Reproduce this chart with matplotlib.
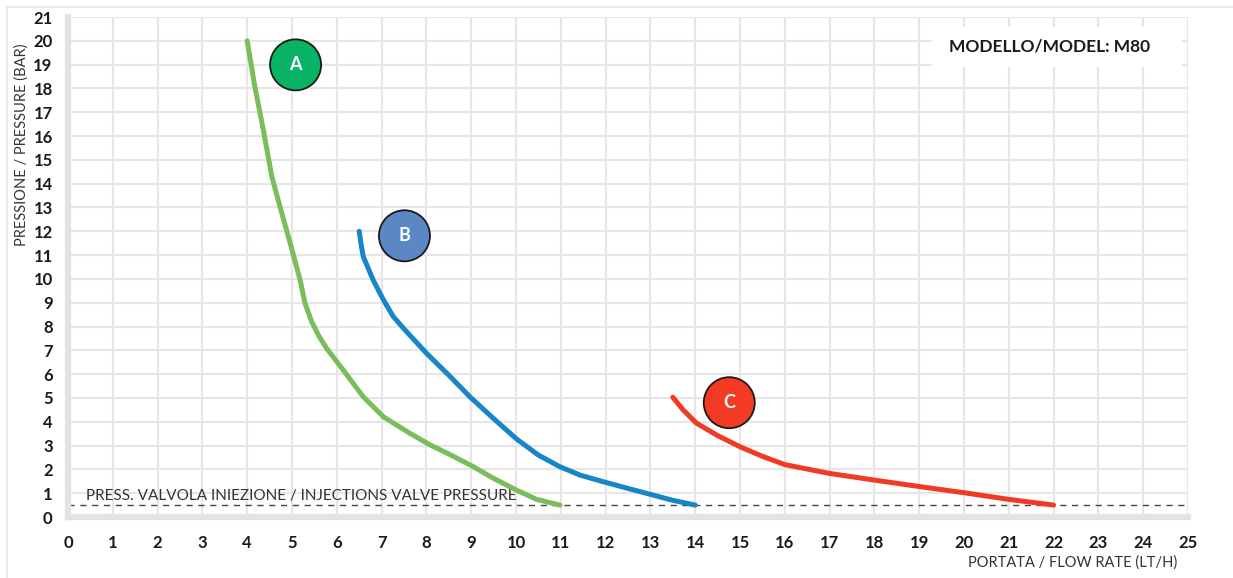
import matplotlib
matplotlib.use("Agg")
import matplotlib.pyplot as plt
from matplotlib.lines import Line2D

# --- data ---
a_x = [4.0, 4.17, 4.36, 4.55, 4.73, 4.96, 5.18, 5.29, 5.44, 5.6, 5.77, 6.14, 6.59,
       7.04, 7.6, 8.08, 8.55, 9.05, 9.5, 10.01, 10.46, 10.98]
a_y = [20.0, 18.08, 16.26, 14.3, 13.04, 11.5, 9.96, 8.98, 8.2, 7.6, 7.09, 6.18, 5.05,
       4.21, 3.55, 3.03, 2.6, 2.11, 1.62, 1.13, 0.74, 0.5]

b_x = [6.5, 6.55, 6.59, 6.81, 7.04, 7.26, 7.52, 8.0, 8.53, 8.97, 9.49, 10.01,
       10.5, 10.98, 11.43, 11.95, 12.5, 13.06, 13.5, 14.0]
b_y = [12.0, 11.36, 10.94, 9.96, 9.12, 8.42, 7.86, 6.88, 5.9, 5.05, 4.15, 3.28,
       2.6, 2.11, 1.76, 1.48, 1.2, 0.92, 0.7, 0.5]

c_x = [13.5, 13.73, 14.03, 14.5, 15.0, 15.5, 16.0, 17.0, 18.0, 19.0, 20.0, 21.0, 22.0]
c_y = [5.03, 4.5, 3.94, 3.42, 2.95, 2.55, 2.2, 1.83, 1.55, 1.28, 1.02, 0.74, 0.5]

curve_names = ['A', 'B', 'C']
badge_x = [5.08, 7.51, 14.76]
badge_y = [18.99, 11.81, 4.8]

valve_pressure = 0.5
x_ticks = list(range(0, 26))
y_ticks = list(range(0, 22))

line_colors = ['#79bd5c', '#1686c8', '#f03a24']
badge_colors = ['#08b366', '#5b87c5', '#f23b22']

fig = plt.figure(figsize=(12.33, 5.78), dpi=100, facecolor='white')
ax = fig.add_axes([68 / 1233, 1 - 517 / 578, 1120 / 1233, 500 / 578])

ax.set_xlim(0, 25)
ax.set_ylim(0, 21)
ax.set_xticks(x_ticks)
ax.set_yticks(y_ticks)
ax.grid(True, color='#e6e6e6', lw=1.5, zorder=0)
ax.set_axisbelow(True)

for side in ['top', 'right']:
    ax.spines[side].set_visible(False)
for side in ['left', 'bottom']:
    ax.spines[side].set_color('#e4e2e4')
    ax.spines[side].set_linewidth(4.5)
ax.tick_params(direction='inout', length=4, width=4, color='#e4e2e4',
               labelsize=12, labelcolor='#1a1a1a')
ax.tick_params(axis='x', pad=11)
ax.tick_params(axis='y', pad=9)
for lab in ax.get_xticklabels() + ax.get_yticklabels():
    lab.set_fontweight('bold')
    lab.set_family('Lato')

# model box (white patch hiding the grid)
ax.add_patch(plt.Rectangle((19.29, 18.9), 5.58, 1.69, facecolor='white',
                           edgecolor='none', zorder=1))
ax.text(21.92, 19.76, 'MODELLO/MODEL: M80', ha='center', va='center',
        fontsize=12.5, fontweight='bold', family='Lato', color='#1a1a1a', zorder=2)

# valve pressure reference line
ax.axhline(valve_pressure, color='#444444', lw=1, ls=(0, (4.5, 4)), zorder=2)
ax.text(0.4, 0.71, 'PRESS. VALVOLA INIEZIONE / INJECTIONS VALVE PRESSURE',
        ha='left', va='baseline', fontsize=11, family='Lato', color='#333333',
        zorder=2)

for xs, ys, col in zip([a_x, b_x, c_x], [a_y, b_y, c_y], line_colors):
    ax.plot(xs, ys, color=col, lw=3.6, solid_capstyle='round',
            solid_joinstyle='round', zorder=3)

ax.scatter(badge_x, badge_y, s=1350, c=badge_colors, edgecolors='#1a1a1a',
           linewidths=1.3, zorder=4)
for name, bx, by in zip(curve_names, badge_x, badge_y):
    ax.text(bx, by, name, ha='center', va='center', color='white',
            fontsize=13, fontweight='bold', family='Lato', zorder=5)

fig.text(22 / 1233, 1 - 145 / 578, 'PRESSIONE / PRESSURE (BAR)', rotation=90,
         ha='center', va='center', fontsize=10.5, family='Lato', color='#333333')
fig.text(1177 / 1233, 1 - 563 / 578, 'PORTATA / FLOW RATE (LT/H)', ha='right',
         va='center', fontsize=10.5, family='Lato', color='#333333')

# thin frame around the chart area (top and left edges visible)
fig.add_artist(Line2D([6 / 1233, 1], [1 - 7 / 578, 1 - 7 / 578],
                      color='#e8e8e8', lw=1.2))
fig.add_artist(Line2D([7 / 1233, 7 / 1233], [0, 1 - 7 / 578],
                      color='#e8e8e8', lw=1.2))

fig.savefig('out.png', dpi=100, facecolor='white')
